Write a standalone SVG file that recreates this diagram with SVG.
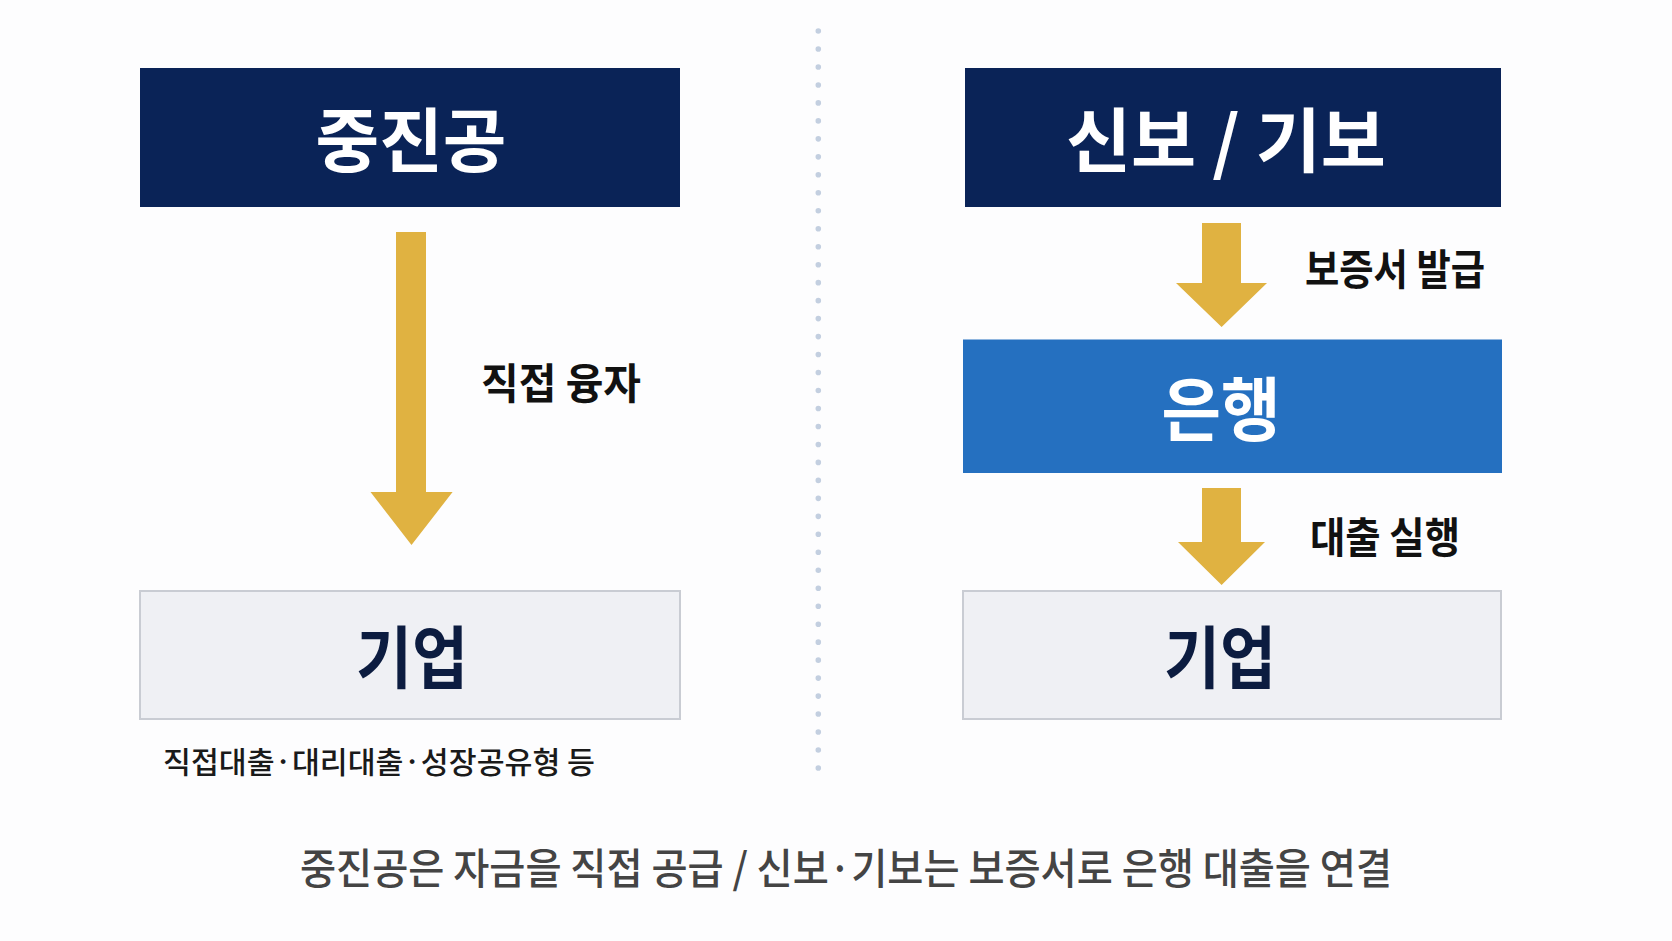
<svg xmlns="http://www.w3.org/2000/svg" width="1672" height="941" viewBox="0 0 1672 941">
<style>
.t{font-family:"Noto Sans CJK KR","Noto Sans CJK SC",sans-serif}
.title{font-size:70px;font-weight:700;fill:#ffffff}
.corp{font-size:68px;font-weight:700;fill:#0c1c40}
.lbl{font-size:42px;font-weight:700;fill:#111111}
.note{font-size:30px;font-weight:500;fill:#1a1a1a}
.cap{font-size:42px;font-weight:500;fill:#444444}
.arrow{fill:#e0b241}
.navy{fill:#0a2357}
.light{fill:#eff0f4;stroke:#c9ccd3;stroke-width:2}
</style>
<rect x="0" y="0" width="1672" height="941" fill="#fdfdfe"/>
<line x1="818.3" y1="31" x2="818.3" y2="769" stroke="#c3cfe0" stroke-width="5.6" stroke-linecap="round" stroke-dasharray="0 17.975"/>
<g id="jungjingong">
<rect x="140" y="68" width="540" height="139" class="navy"/>
<text class="t title" x="411" y="167" text-anchor="middle" textLength="191" lengthAdjust="spacingAndGlyphs">중진공</text>
</g>
<g id="corp-left">
<rect x="140" y="591" width="540" height="128" class="light"/>
<text class="t corp" x="412" y="683" text-anchor="middle" textLength="112" lengthAdjust="spacingAndGlyphs">기업</text>
</g>
<g id="note-left">
<text class="t note" x="379" y="773" text-anchor="middle" textLength="432" lengthAdjust="spacingAndGlyphs">직접대출·대리대출·성장공유형 등</text>
</g>
<g id="shinbo-gibo">
<rect x="965" y="68" width="536" height="139" class="navy"/>
<text class="t title" x="1226" y="167" text-anchor="middle" textLength="320" lengthAdjust="spacingAndGlyphs">신보 / 기보</text>
</g>
<g id="bank">
<rect x="963" y="339.5" width="539" height="133.5" fill="#2570c0"/>
<text class="t title" x="1221" y="436" text-anchor="middle" textLength="119" lengthAdjust="spacingAndGlyphs">은행</text>
</g>
<g id="corp-right">
<rect x="963" y="591" width="538" height="128" class="light"/>
<text class="t corp" x="1220" y="683" text-anchor="middle" textLength="112" lengthAdjust="spacingAndGlyphs">기업</text>
</g>
<g id="connectors">
<polygon class="arrow" points="396,232 426,232 426,492 452.6,492 411.5,545 370.5,492 396,492"/>
<polygon class="arrow" points="1202,223 1241,223 1241,283 1267,283 1221.6,327 1176,283 1202,283"/>
<polygon class="arrow" points="1202,488 1241,488 1241,542 1265,542 1221.6,585 1178,542 1202,542"/>
<text class="t lbl" x="561" y="399" text-anchor="middle" textLength="160" lengthAdjust="spacingAndGlyphs">직접 융자</text>
<text class="t lbl" x="1395" y="285" text-anchor="middle" textLength="180" lengthAdjust="spacingAndGlyphs">보증서 발급</text>
<text class="t lbl" x="1385" y="553" text-anchor="middle" textLength="150" lengthAdjust="spacingAndGlyphs">대출 실행</text>
</g>
<g id="caption">
<text class="t cap" x="846" y="884" text-anchor="middle" textLength="1092" lengthAdjust="spacingAndGlyphs">중진공은 자금을 직접 공급 / 신보·기보는 보증서로 은행 대출을 연결</text>
</g>
</svg>
